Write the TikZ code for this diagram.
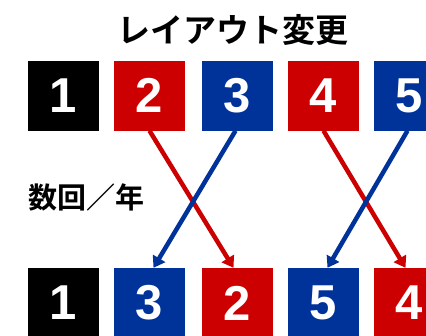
\documentclass[tikz,border=0pt]{standalone}
\usepackage{fontspec}
\setmainfont{Liberation Sans}
\newfontfamily\jpfont{Noto Sans CJK JP}[BoldFont={* Bold}]
\usetikzlibrary{arrows.meta}
\definecolor{boxred}{RGB}{204,0,0}
\definecolor{boxblue}{RGB}{0,51,153}
\tikzset{
  sq/.style={minimum width=71pt, minimum height=70pt, inner sep=0pt, text=white,
    font=\fontsize{49}{49}\selectfont\bfseries},
  blk/.style={sq, fill=black},
  rd/.style={sq, fill=boxred},
  bl/.style={sq, fill=boxblue},
  arr/.style={line width=4.5pt, -{Triangle[length=11pt,width=14pt]}},
}
\begin{document}
\begin{tikzpicture}[x=1pt,y=-1pt]
\clip (0,0) rectangle (426,335);
\fill[white] (0,0) rectangle (426,335);
\node[font=\jpfont\bfseries\fontsize{33}{33}\selectfont] (title) at (233,30) {レイアウト変更};
\node[blk] (t1) at (63.5,95.5) {1};
\node[rd]  (t2) at (149.5,95.5) {2};
\node[bl]  (t3) at (237.5,95.5) {3};
\node[rd]  (t4) at (323.5,95.5) {4};
\node[bl]  (t5) at (409.5,95.5) {5};
\node[blk] (b1) at (63.5,303) {1};
\node[bl]  (b2) at (149.5,303) {3};
\node[rd]  (b3) at (237.5,303) {2};
\node[bl]  (b4) at (323.5,303) {5};
\node[rd]  (b5) at (409.5,303) {4};
\node[font=\jpfont\bfseries\fontsize{29}{29}\selectfont] (freq) at (86,197) {数回／年};
\draw[arr, boxred] (t2.south) -- ([xshift=-4pt]b3.north);
\draw[arr, boxblue] ([xshift=-2pt]t3.south) -- ([xshift=4pt]b2.north);
\draw[arr, boxred] (t4.south) -- ([xshift=-4pt]b5.north);
\draw[arr, boxblue] ([xshift=-2pt]t5.south) -- ([xshift=4pt]b4.north);
\end{tikzpicture}
\end{document}
